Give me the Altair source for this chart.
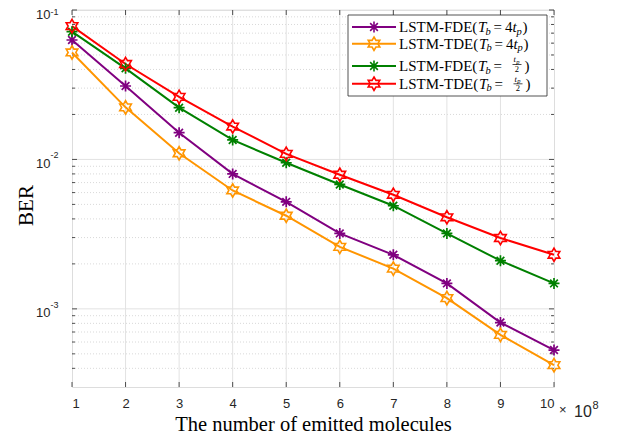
import altair as alt
import pandas as pd

# ---------------- data ----------------
emitted = [1, 2, 3, 4, 5, 6, 7, 8, 9, 10]  # x 10^8 molecules
ber_fde_4tp = [0.063, 0.031, 0.0151, 0.0080, 0.0052, 0.0032, 0.0023, 0.00148, 0.00081, 0.00053]
ber_tde_4tp = [0.052, 0.0223, 0.0110, 0.0062, 0.0042, 0.0026, 0.00186, 0.00118, 0.00067, 0.00042]
ber_fde_half = [0.0716, 0.0407, 0.0222, 0.0135, 0.0095, 0.0068, 0.0049, 0.0032, 0.0021, 0.00148]
ber_tde_half = [0.078, 0.0435, 0.0262, 0.0166, 0.0109, 0.0079, 0.0058, 0.0041, 0.00298, 0.0023]

series_names = ["FDE_4tp", "TDE_4tp", "FDE_half", "TDE_half"]
series_colors = ["#800080", "#ff9500", "#008000", "#ff0000"]

x_ticks = [1, 2, 3, 4, 5, 6, 7, 8, 9, 10]
y_major = [0.001, 0.01, 0.1]
y_exponents = ["-3", "-2", "-1"]
y_minor = [0.0004, 0.0005, 0.0006, 0.0007, 0.0008, 0.0009,
           0.002, 0.003, 0.004, 0.005, 0.006, 0.007, 0.008, 0.009,
           0.02, 0.03, 0.04, 0.05, 0.06, 0.07, 0.08, 0.09]

# ---------------- layout ----------------
W, H = 482, 377
OX, OY = 72, 10  # plot origin in page px (incl. 8px margin)
AX = "#262626"
SANS = "Liberation Sans"
SERIF = "Liberation Serif"

ASTER = "M0,-1L0,1M-1,0L1,0M-0.7,-0.7L0.7,0.7M-0.7,0.7L0.7,-0.7"
HEX = ("M0,-1L0.289,-0.5L0.866,-0.5L0.577,0L0.866,0.5L0.289,0.5L0,1L-0.289,0.5"
       "L-0.866,0.5L-0.577,0L-0.866,-0.5L-0.289,-0.5Z")

rows = []
for name, vals in zip(series_names, [ber_fde_4tp, ber_tde_4tp, ber_fde_half, ber_tde_half]):
    for xv, v in zip(emitted, vals):
        rows.append({"x": xv, "ber": v, "series": name})
df = pd.DataFrame(rows)

xs = alt.Scale(domain=[1, 10], nice=False, zero=False)
ys = alt.Scale(type="log", domain=[0.0003, 0.1], nice=False)
color = alt.Color("series:N", scale=alt.Scale(domain=series_names, range=series_colors), legend=None)

xaxis = alt.Axis(
    values=x_ticks, format="d", grid=False, ticks=False, tickSize=0, domain=False,
    labelFont=SANS, labelFontSize=13, labelColor=AX, labelPadding=10,
    title="The number of emitted molecules", titleFont=SERIF, titleFontSize=20.5,
    titleFontWeight="normal", titleColor="black", titleY=43, titleBaseline="alphabetic")
yaxis = alt.Axis(
    values=y_major, grid=False, ticks=False, tickSize=0, domain=False,
    labelExpr="'10'",
    labelFont=SANS, labelFontSize=13, labelColor=AX, labelPadding=22, labelOffset=4,
    title="BER", titleFont=SERIF, titleFontSize=21, titleFontWeight="normal",
    titleColor="black", titleX=-40, titleY=195, titleBaseline="alphabetic")


def X(field):
    return alt.X(field, scale=xs, axis=xaxis)


def Y(field):
    return alt.Y(field, scale=ys, axis=yaxis)


df_major = pd.DataFrame({"v": y_major})
df_minor = pd.DataFrame({"v": y_minor})
df_exp = pd.DataFrame({"v": y_major, "t": y_exponents})
df_xt = pd.DataFrame({"x": x_ticks})
df_xg = pd.DataFrame({"x": x_ticks[1:-1]})

layers = []

# grid
layers.append(alt.Chart(df_minor).mark_rule(color="#cfcfcf", strokeWidth=0.8, strokeDash=[1, 2]).encode(
    y=Y("v:Q"), x=alt.value(0), x2=alt.value(W)))
layers.append(alt.Chart(df_major).mark_rule(color="#e2e2e2", strokeWidth=1).encode(
    y=Y("v:Q"), x=alt.value(0), x2=alt.value(W)))
layers.append(alt.Chart(df_xg).mark_rule(color="#e2e2e2", strokeWidth=1).encode(
    x=X("x:Q"), y=alt.value(0), y2=alt.value(H)))

# inward ticks
for df_t, ln in ((df_major, 5), (df_minor, 3)):
    layers.append(alt.Chart(df_t).mark_rule(color=AX, strokeWidth=0.8).encode(
        y=Y("v:Q"), x=alt.value(0), x2=alt.value(ln)))
    layers.append(alt.Chart(df_t).mark_rule(color=AX, strokeWidth=0.8).encode(
        y=Y("v:Q"), x=alt.value(W - ln), x2=alt.value(W)))
layers.append(alt.Chart(df_xt).mark_rule(color=AX, strokeWidth=0.8).encode(
    x=X("x:Q"), y=alt.value(H - 5), y2=alt.value(H)))
layers.append(alt.Chart(df_xt).mark_rule(color=AX, strokeWidth=0.8).encode(
    x=X("x:Q"), y=alt.value(0), y2=alt.value(5)))

# y tick label exponents
layers.append(alt.Chart(df_exp).transform_filter("datum.v < 0.05").mark_text(
    align="left", baseline="middle", dy=-4, font=SANS, fontSize=9, color=AX).encode(
    y=Y("v:Q"), x=alt.value(-21.5), text="t:N"))
layers.append(alt.Chart(df_exp).transform_filter("datum.v > 0.05").mark_text(
    align="left", baseline="top", dy=-2, font=SANS, fontSize=9, color=AX).encode(
    y=Y("v:Q"), x=alt.value(-21.5), text="t:N"))

# lines
layers.append(alt.Chart(df).mark_line(strokeWidth=2).encode(
    x=X("x:Q"), y=Y("ber:Q"), color=color))

# markers
layers.append(alt.Chart(df).transform_filter(
    alt.FieldOneOfPredicate(field="series", oneOf=["FDE_4tp", "FDE_half"])
).mark_point(shape=ASTER, filled=False, size=121, strokeWidth=1.7, opacity=1).encode(
    x=X("x:Q"), y=Y("ber:Q"), color=color))
layers.append(alt.Chart(df).transform_filter(
    alt.FieldOneOfPredicate(field="series", oneOf=["TDE_4tp", "TDE_half"])
).mark_point(shape=HEX, filled=False, size=180, strokeWidth=1.6, opacity=1).encode(
    x=X("x:Q"), y=Y("ber:Q"), color=color))

one = pd.DataFrame({"a": [0]})

# legend box
layers.append(alt.Chart(one).mark_rect(fill="white", stroke=AX, strokeWidth=0.8).encode(
    x=alt.value(348 - OX), x2=alt.value(547 - OX), y=alt.value(15 - OY), y2=alt.value(96 - OY)))


def txt(t, px, py, size, italic=False, font=SERIF, col="black"):
    return alt.Chart(one).mark_text(
        text=t, align="left", baseline="alphabetic", font=font, fontSize=size,
        fontStyle="italic" if italic else "normal", color=col).encode(
        x=alt.value(px - OX), y=alt.value(py - OY))


# (head, baseline, line y, kind, x shift, shape, size, fraction offsets: t, p, bar, 2)
legend_rows = [
    ("LSTM-FDE(", 32.0, 27.0, "4tp", 0, ASTER, 121, None),
    ("LSTM-TDE(", 48.7, 43.7, "4tp", 1, HEX, 180, None),
    ("LSTM-FDE(", 71.0, 66.0, "half", 0, ASTER, 121, (-9.0, -7.5, -6.5, 1.0)),
    ("LSTM-TDE(", 88.7, 83.7, "half", 1, HEX, 180, (-6.7, -5.5, -4.9, 2.6)),
]
for (head, B, cy, kind, s, shp, sz, fr), col in zip(legend_rows, series_colors):
    layers.append(alt.Chart(one).mark_rule(color=col, strokeWidth=2).encode(
        x=alt.value(352 - OX), x2=alt.value(396 - OX), y=alt.value(cy - OY)))
    layers.append(alt.Chart(one).mark_point(shape=shp, filled=False, size=sz, strokeWidth=1.6,
                                            color=col, opacity=1).encode(
        x=alt.value(374 - OX), y=alt.value(cy - OY)))
    layers.append(txt(head, 399, B, 15))
    layers.append(txt("T", 478 + s, B, 15, italic=True))
    layers.append(txt("b", 485.5 + s, B + 2.5, 10.5, italic=True))
    layers.append(txt("=", 493.5 + s, B, 15))
    if kind == "4tp":
        layers.append(txt("4", 505 + s, B, 15))
        layers.append(txt("t", 512.5 + s, B, 15, italic=True))
        layers.append(txt("p", 516.5 + s, B + 2.5, 10.5, italic=True))
        layers.append(txt(")", 522.5 + s, B, 15))
    else:
        ft, fp, fb, f2 = fr
        layers.append(txt("t", 513.5 + s, B + ft, 8.5, italic=True))
        layers.append(txt("p", 516.3 + s, B + fp, 6.5, italic=True))
        layers.append(alt.Chart(one).mark_rule(color="black", strokeWidth=0.7).encode(
            x=alt.value(512.5 + s - OX), x2=alt.value(521.5 + s - OX), y=alt.value(B + fb - OY)))
        layers.append(txt("2", 514.8 + s, B + f2, 8.5))
        layers.append(txt(")", 524.5 + s, B, 15))

# x10^8 multiplier
layers.append(txt("×", 559, 414, 13, font=SANS, col=AX))
layers.append(txt("10", 574, 417, 16, font=SANS, col=AX))
layers.append(txt("8", 592.5, 409, 11, font=SANS, col=AX))

chart = alt.layer(*layers).properties(
    width=W, height=H,
    padding={"left": 64, "top": 2, "right": 61, "bottom": 46},
    autosize=alt.AutoSizeParams(type="none"),
).configure_view(stroke=AX, strokeWidth=1).configure(background="white")

chart.save("out.html", embed_options={"renderer": "svg", "actions": False})
